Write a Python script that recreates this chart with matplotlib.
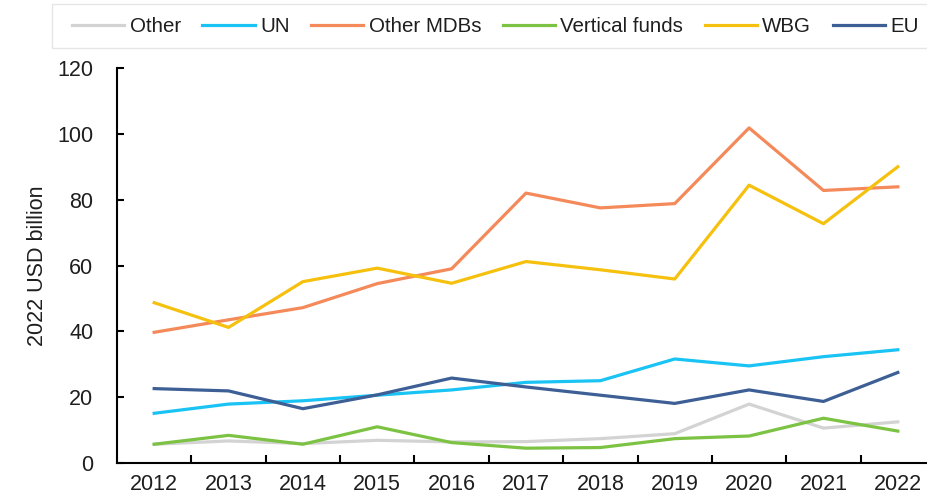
import matplotlib
matplotlib.use("Agg")
import matplotlib.pyplot as plt
import numpy as np
from matplotlib.patches import Rectangle
from matplotlib.ticker import FixedLocator, NullFormatter

plt.rcParams["font.family"] = ["Liberation Sans", "DejaVu Sans"]

years = ["2012", "2013", "2014", "2015", "2016", "2017", "2018", "2019", "2020", "2021", "2022"]

other = [5.7, 6.7, 5.9, 6.9, 6.4, 6.5, 7.4, 8.9, 17.9, 10.6, 12.5]
un = [15.1, 17.9, 18.9, 20.6, 22.2, 24.5, 25.0, 31.6, 29.5, 32.3, 34.4]
other_mdbs = [39.7, 43.5, 47.2, 54.5, 59.0, 82.0, 77.5, 78.8, 101.8, 82.8, 83.9]
vertical_funds = [5.7, 8.4, 5.7, 11.0, 6.2, 4.5, 4.7, 7.4, 8.2, 13.6, 9.7]
wbg = [48.7, 41.2, 55.1, 59.2, 54.6, 61.2, 58.7, 55.9, 84.4, 72.7, 90.0]
eu = [22.6, 21.9, 16.5, 20.7, 25.8, 23.1, 20.6, 18.1, 22.2, 18.7, 27.5]

series = [
    ("Other", other, "#d3d3d3"),
    ("UN", un, "#19c3f3"),
    ("Other MDBs", other_mdbs, "#f4895a"),
    ("Vertical funds", vertical_funds, "#7cc243"),
    ("WBG", wbg, "#f5c10e"),
    ("EU", eu, "#3d5f96"),
]

W, H = 927, 499
fig = plt.figure(figsize=(W / 100, H / 100), dpi=100)
# plot area runs a little past the right edge, as in the source image
ax = fig.add_axes([117 / W, 36 / H, 818 / W, 395 / H])

x = np.arange(len(years))
for name, vals, color in series:
    ax.plot(x, vals, color=color, linewidth=2.3, label=name)

ax.set_xlim(-0.5, len(years) - 0.5)
ax.set_ylim(0, 120)
ax.set_yticks(np.arange(0, 121, 20))

ax.set_xticks(x)
ax.set_xticklabels(years)
ax.xaxis.set_minor_locator(FixedLocator(np.arange(0.5, len(years) - 1, 1.0)))
ax.xaxis.set_minor_formatter(NullFormatter())
ax.tick_params(axis="x", which="major", length=0, pad=8, labelsize=15.5, labelcolor="#1e1e1e")
ax.tick_params(axis="x", which="minor", direction="in", length=6, width=1.5, color="black")
ax.tick_params(axis="y", direction="in", length=5, width=1.5, pad=17, labelsize=15.5,
               color="black", labelcolor="#1e1e1e")

for side in ["top", "right"]:
    ax.spines[side].set_visible(False)
for side in ["left", "bottom"]:
    ax.spines[side].set_linewidth(1.5)
    ax.spines[side].set_color("black")

ax.set_ylabel("2022 USD billion", fontsize=15.5, color="#1e1e1e")
ax.yaxis.set_label_coords(-0.084, 0.5)

# legend box (thin light frame across the top)
fig.patches.append(Rectangle((52 / W, 1 - 48 / H), 900 / W, 44 / H, transform=fig.transFigure,
                             facecolor="white", edgecolor="#e6e6e6", linewidth=1.0, zorder=0))

leg = fig.legend(
    loc="center left",
    bbox_to_anchor=(72 / W, 1 - 27 / H),
    ncol=6,
    fontsize=14.8,
    frameon=False,
    handlelength=2.55,
    handletextpad=0.25,
    columnspacing=1.05,
    borderpad=0,
    borderaxespad=0,
)
for t in leg.get_texts():
    t.set_color("#1e1e1e")

fig.savefig("out.png", dpi=100)
